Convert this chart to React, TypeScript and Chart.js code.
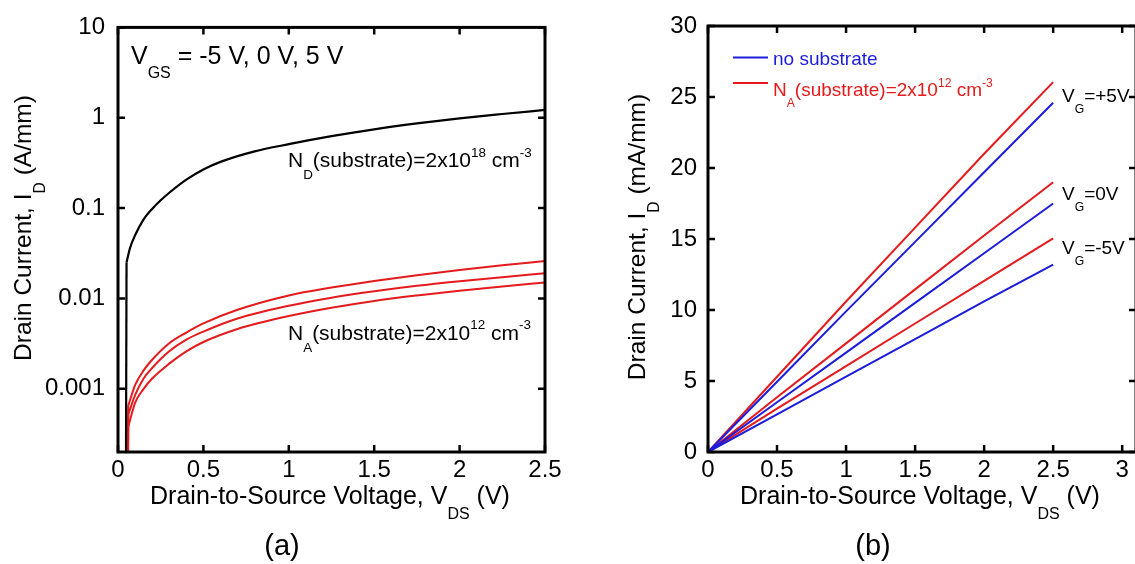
import React, { useEffect, useRef } from 'react';
import { Chart, registerables } from 'chart.js';

Chart.register(...registerables);

const FONT = '"Liberation Sans", Arial, Helvetica, sans-serif';
const RED = '#e41a1c';
const BLUE = '#1c1cdc';
const BLACK = '#000000';

// ---- Panel (a): drain current on a log axis ----
const VDS_TICKS_A = [0, 0.5, 1, 1.5, 2, 2.5];
const VDS_TICK_LABELS_A = ['0', '0.5', '1', '1.5', '2', '2.5'];
const ID_TICKS_A = [0.001, 0.01, 0.1, 1, 10];
const ID_TICK_LABELS_A = ['0.001', '0.01', '0.1', '1', '10'];

// N_D substrate (black): turn-on edge, then the output curve
const VDS_ND_ON = [0.045, 0.05];
const ID_ND_ON = [1e-5, 0.025];
const VDS_ND = [0.05, 0.07, 0.1, 0.15, 0.2, 0.25, 0.3, 0.4, 0.5, 0.6, 0.8, 1.0, 1.25, 1.5, 1.75, 2.0, 2.25, 2.5];
const ID_ND = [0.025, 0.036, 0.05, 0.075, 0.098, 0.122, 0.148, 0.207, 0.268, 0.325, 0.425, 0.51, 0.625, 0.745, 0.865, 0.985, 1.1, 1.22];

// N_A substrate (red), V_GS = 5 V, 0 V, -5 V: turn-on edge, then the output curve
const VDS_NA_ON = [0.055, 0.06];
const ID_NA_P5_ON = [1e-5, 0.00065];
const ID_NA_0_ON = [1e-5, 0.00052];
const ID_NA_M5_ON = [1e-5, 0.00038];
const VDS_NA = [0.06, 0.1, 0.15, 0.2, 0.3, 0.4, 0.5, 0.7, 1.0, 1.25, 1.5, 1.75, 2.0, 2.25, 2.5];
const ID_NA_P5 = [0.00065, 0.0011, 0.0016, 0.0021, 0.0032, 0.0042, 0.0053, 0.0075, 0.0108, 0.0132, 0.0156, 0.0181, 0.0207, 0.0233, 0.026];
const ID_NA_0 = [0.00052, 0.00085, 0.0013, 0.0017, 0.0026, 0.0035, 0.0043, 0.006, 0.0083, 0.0102, 0.012, 0.0138, 0.0155, 0.0172, 0.019];
const ID_NA_M5 = [0.00038, 0.0007, 0.001, 0.0013, 0.0019, 0.0026, 0.0033, 0.0046, 0.0064, 0.0079, 0.0094, 0.0108, 0.0122, 0.0136, 0.015];

// ---- Panel (b): drain current on a linear axis ----
const VDS_TICKS_B = [0, 0.5, 1, 1.5, 2, 2.5, 3];
const VDS_TICK_LABELS_B = ['0', '0.5', '1', '1.5', '2', '2.5', '3'];
const ID_TICKS_B = [0, 5, 10, 15, 20, 25, 30];
const ID_TICK_LABELS_B = ['0', '5', '10', '15', '20', '25', '30'];

const VDS_B = [0, 0.5, 1, 1.5, 2, 2.5];
const ID_B_RED_P5 = [0, 5.3, 10.6, 15.8, 21.0, 26.05];
const ID_B_BLUE_P5 = [0, 4.95, 9.9, 14.8, 19.7, 24.6];
const ID_B_RED_0 = [0, 3.85, 7.65, 11.45, 15.25, 19.0];
const ID_B_BLUE_0 = [0, 3.5, 7.0, 10.5, 14.0, 17.5];
const ID_B_RED_M5 = [0, 3.05, 6.05, 9.05, 12.05, 15.05];
const ID_B_BLUE_M5 = [0, 2.65, 5.3, 7.95, 10.6, 13.2];

type Seg = { t: string; k?: 'sub' | 'sup' };

const pts = (xs: number[], ys: number[]) => xs.map((x, i) => ({ x, y: ys[i] }));

// Text with sub/superscripts, drawn on the alphabetic baseline
function drawRich(
  ctx: CanvasRenderingContext2D,
  segs: Seg[],
  x: number,
  y: number,
  size: number,
  color: string,
  align: 'left' | 'center' = 'left'
) {
  const small = size * 0.64;
  ctx.save();
  ctx.fillStyle = color;
  ctx.textAlign = 'left';
  ctx.textBaseline = 'alphabetic';
  let w = 0;
  for (const s of segs) {
    ctx.font = `${s.k ? small : size}px ${FONT}`;
    w += ctx.measureText(s.t).width;
  }
  let cx = align === 'center' ? x - w / 2 : x;
  for (const s of segs) {
    ctx.font = `${s.k ? small : size}px ${FONT}`;
    const dy = s.k === 'sub' ? size * 0.58 : s.k === 'sup' ? -size * 0.5 : 0;
    ctx.fillText(s.t, cx, y + dy);
    cx += ctx.measureText(s.t).width;
  }
  ctx.restore();
}

function drawRichVertical(
  ctx: CanvasRenderingContext2D,
  segs: Seg[],
  x: number,
  y: number,
  size: number,
  color: string
) {
  ctx.save();
  ctx.translate(x, y);
  ctx.rotate(-Math.PI / 2);
  drawRich(ctx, segs, 0, 0, size, color, 'center');
  ctx.restore();
}

// Boxed frame with inward tick marks on all four sides
const frameTicks = {
  id: 'frameTicks',
  afterDatasetsDraw(chart: any) {
    const { ctx, chartArea: a, scales } = chart;
    const xs = scales.x;
    const ys = scales.y;
    const len = 7;
    ctx.save();
    ctx.strokeStyle = BLACK;
    ctx.lineWidth = 2.5;
    ctx.beginPath();
    xs.ticks.forEach((t: any) => {
      const p = xs.getPixelForValue(t.value);
      ctx.moveTo(p, a.bottom);
      ctx.lineTo(p, a.bottom - len);
      ctx.moveTo(p, a.top);
      ctx.lineTo(p, a.top + len);
    });
    ys.ticks.forEach((t: any) => {
      const p = ys.getPixelForValue(t.value);
      ctx.moveTo(a.left, p);
      ctx.lineTo(a.left + len, p);
      ctx.moveTo(a.right, p);
      ctx.lineTo(a.right - len, p);
    });
    ctx.stroke();
    ctx.lineWidth = 3;
    ctx.strokeRect(a.left, a.top, a.right - a.left, a.bottom - a.top);
    ctx.restore();
  },
};

const tickFont = { family: FONT, size: 24 };

function xAxis(min: number, max: number, ticks: number[], labels: string[]) {
  return {
    type: 'linear',
    min,
    max,
    grid: { display: false, drawTicks: false },
    border: { display: false },
    ticks: {
      font: tickFont,
      color: BLACK,
      padding: 4,
      maxRotation: 0,
      minRotation: 0,
      autoSkip: false,
      callback: (_v: any, i: number) => labels[i],
    },
    afterBuildTicks: (s: any) => {
      s.ticks = ticks.map((value) => ({ value }));
    },
    afterFit: (s: any) => {
      s.height = 112;
    },
  };
}

function yAxis(type: string, min: number, max: number, ticks: number[], labels: string[], width: number, pad: number) {
  return {
    type,
    min,
    max,
    grid: { display: false, drawTicks: false },
    border: { display: false },
    ticks: {
      font: tickFont,
      color: BLACK,
      padding: pad,
      autoSkip: false,
      callback: (_v: any, i: number) => labels[i],
    },
    afterBuildTicks: (s: any) => {
      s.ticks = ticks.map((value) => ({ value }));
    },
    afterFit: (s: any) => {
      s.width = width;
    },
  };
}

const line = (data: any[], color: string, width = 2, smooth = true) => ({
  data,
  borderColor: color,
  borderWidth: width,
  pointRadius: 0,
  fill: false,
  tension: 0,
  cubicInterpolationMode: smooth ? 'monotone' : 'default',
});

const baseOptions = {
  animation: false,
  responsive: false,
  maintainAspectRatio: false,
  events: [],
  plugins: { legend: { display: false }, tooltip: { enabled: false } },
};

// Canvas offset of panel (b) on the page
const B_LEFT = 567;

const textsA = {
  id: 'textsA',
  afterDraw(chart: any) {
    const ctx = chart.ctx;
    drawRich(ctx, [{ t: 'V' }, { t: 'GS', k: 'sub' }, { t: ' = -5 V, 0 V, 5 V' }], 131, 63.5, 25, BLACK);
    drawRich(
      ctx,
      [{ t: 'N' }, { t: 'D', k: 'sub' }, { t: '(substrate)=2x10' }, { t: '18', k: 'sup' }, { t: ' cm' }, { t: '-3', k: 'sup' }],
      288,
      167,
      21,
      BLACK
    );
    drawRich(
      ctx,
      [{ t: 'N' }, { t: 'A', k: 'sub' }, { t: '(substrate)=2x10' }, { t: '12', k: 'sup' }, { t: ' cm' }, { t: '-3', k: 'sup' }],
      288,
      339.5,
      21,
      BLACK
    );
    drawRich(ctx, [{ t: 'Drain-to-Source Voltage, V' }, { t: 'DS', k: 'sub' }, { t: ' (V)' }], 330, 504, 25, BLACK, 'center');
    drawRichVertical(ctx, [{ t: 'Drain Current, I' }, { t: 'D', k: 'sub' }, { t: ' (A/mm)' }], 31, 228, 24.5, BLACK);
    drawRich(ctx, [{ t: '(a)' }], 282, 555, 29, BLACK, 'center');
  },
};

const textsB = {
  id: 'textsB',
  afterDraw(chart: any) {
    const ctx = chart.ctx;
    const o = B_LEFT;
    // legend
    ctx.save();
    ctx.lineWidth = 2;
    ctx.strokeStyle = BLUE;
    ctx.beginPath();
    ctx.moveTo(733 - o, 57.5);
    ctx.lineTo(768 - o, 57.5);
    ctx.stroke();
    ctx.strokeStyle = RED;
    ctx.beginPath();
    ctx.moveTo(733 - o, 83);
    ctx.lineTo(768 - o, 83);
    ctx.stroke();
    ctx.restore();
    drawRich(ctx, [{ t: 'no substrate' }], 773 - o, 65, 19, BLUE);
    drawRich(
      ctx,
      [{ t: 'N' }, { t: 'A', k: 'sub' }, { t: '(substrate)=2x10' }, { t: '12', k: 'sup' }, { t: ' cm' }, { t: '-3', k: 'sup' }],
      773 - o,
      96,
      19,
      RED
    );
    // gate-voltage labels
    drawRich(ctx, [{ t: 'V' }, { t: 'G', k: 'sub' }, { t: '=+5V' }], 1062 - o, 101.5, 19, BLACK);
    drawRich(ctx, [{ t: 'V' }, { t: 'G', k: 'sub' }, { t: '=0V' }], 1062 - o, 199.5, 19, BLACK);
    drawRich(ctx, [{ t: 'V' }, { t: 'G', k: 'sub' }, { t: '=-5V' }], 1062 - o, 254, 19, BLACK);
    // axis titles
    drawRich(ctx, [{ t: 'Drain-to-Source Voltage, V' }, { t: 'DS', k: 'sub' }, { t: ' (V)' }], 920 - o, 504, 25, BLACK, 'center');
    drawRichVertical(ctx, [{ t: 'Drain Current, I' }, { t: 'D', k: 'sub' }, { t: ' (mA/mm)' }], 645 - o, 237, 24.5, BLACK);
    drawRich(ctx, [{ t: '(b)' }], 873 - o, 555, 29, BLACK, 'center');
  },
};

export default function App() {
  const refA = useRef<HTMLCanvasElement>(null);
  const refB = useRef<HTMLCanvasElement>(null);

  useEffect(() => {
    const chartA = new Chart(refA.current as HTMLCanvasElement, {
      type: 'line',
      data: {
        datasets: [
          line(pts(VDS_ND_ON, ID_ND_ON), BLACK, 2.2, false),
          line(pts(VDS_ND, ID_ND), BLACK, 2.2),
          line(pts(VDS_NA_ON, ID_NA_P5_ON), RED, 2, false),
          line(pts(VDS_NA_ON, ID_NA_0_ON), RED, 2, false),
          line(pts(VDS_NA_ON, ID_NA_M5_ON), RED, 2, false),
          line(pts(VDS_NA, ID_NA_P5), RED),
          line(pts(VDS_NA, ID_NA_0), RED),
          line(pts(VDS_NA, ID_NA_M5), RED),
        ],
      },
      options: {
        ...baseOptions,
        layout: { padding: { top: 26, right: 22, bottom: 0, left: 0 } },
        scales: {
          x: xAxis(0, 2.5, VDS_TICKS_A, VDS_TICK_LABELS_A),
          y: yAxis('logarithmic', 2e-4, 10, ID_TICKS_A, ID_TICK_LABELS_A, 118, 13),
        },
      } as any,
      plugins: [frameTicks, textsA],
    } as any);

    const chartB = new Chart(refB.current as HTMLCanvasElement, {
      type: 'line',
      data: {
        datasets: [
          line(pts(VDS_B, ID_B_BLUE_P5), BLUE, 2, false),
          line(pts(VDS_B, ID_B_BLUE_0), BLUE, 2, false),
          line(pts(VDS_B, ID_B_BLUE_M5), BLUE, 2, false),
          line(pts(VDS_B, ID_B_RED_P5), RED, 2, false),
          line(pts(VDS_B, ID_B_RED_0), RED, 2, false),
          line(pts(VDS_B, ID_B_RED_M5), RED, 2, false),
        ],
      },
      options: {
        ...baseOptions,
        layout: { padding: { top: 26, right: 3, bottom: 0, left: 0 } },
        scales: {
          x: xAxis(0, 3.1, VDS_TICKS_B, VDS_TICK_LABELS_B),
          y: yAxis('linear', 0, 30, ID_TICKS_B, ID_TICK_LABELS_B, 141, 11),
        },
      } as any,
      plugins: [frameTicks, textsB],
    } as any);

    return () => {
      chartA.destroy();
      chartB.destroy();
    };
  }, []);

  return (
    <div
      style={{
        position: 'fixed',
        left: 0,
        top: 0,
        width: 1135,
        height: 564,
        overflow: 'hidden',
        background: '#ffffff',
      }}
    >
      <canvas
        ref={refA}
        width={567}
        height={564}
        style={{ position: 'absolute', left: 0, top: 0, width: 567, height: 564 }}
      />
      <canvas
        ref={refB}
        width={572}
        height={564}
        style={{ position: 'absolute', left: B_LEFT, top: 0, width: 572, height: 564 }}
      />
    </div>
  );
}
